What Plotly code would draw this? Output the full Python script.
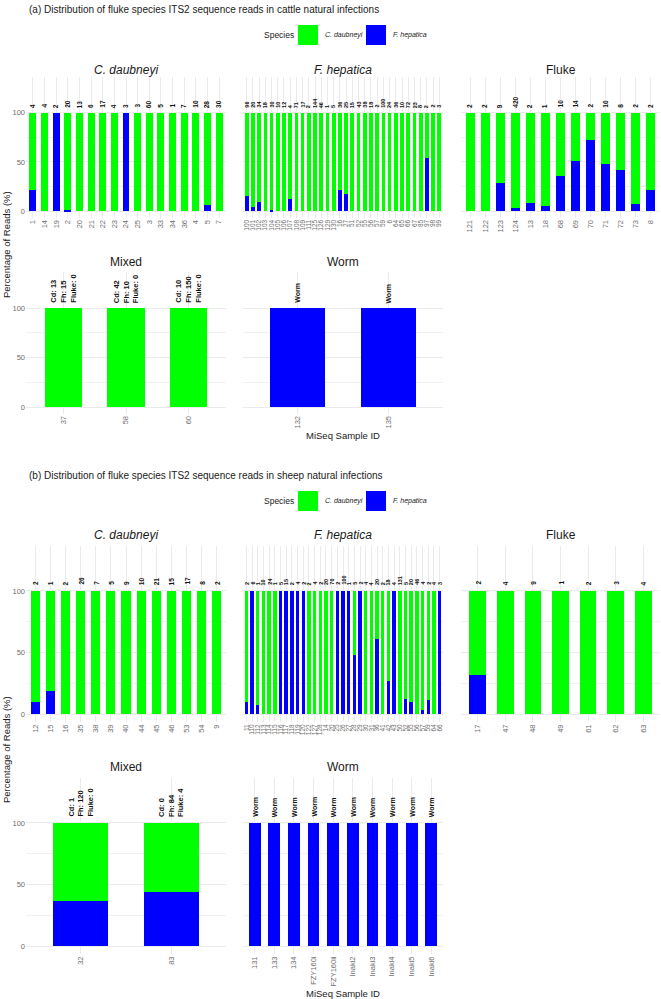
import plotly.graph_objects as go

# ---------------- data ----------------
# (a) cattle
cattle_cd_ids = ["1", "14", "19", "2", "20", "21", "22", "23", "24", "25", "3", "33", "34", "36", "4", "5", "7"]
cattle_cd_fh = [21, 0, 100, 1, 0, 0, 0, 0, 100, 0, 0, 0, 0, 0, 0, 6, 0]
cattle_cd_n = [4, 4, 2, 20, 13, 6, 17, 4, 3, 3, 60, 5, 1, 7, 10, 28, 30]

cattle_fh_ids = ["100", "101", "102", "103", "104", "105", "106", "107", "108", "109", "111", "125", "126",
                 "129", "130", "16", "27", "51", "52", "55", "56", "57", "59", "6", "64", "65", "66", "67",
                 "85", "97", "98", "99"]
cattle_fh_fh = [15, 4, 9, 0, 1, 0, 0, 12, 0, 0, 0, 0, 0, 0, 0, 22, 17, 0, 0, 0, 0, 0, 0, 0, 0, 0, 0, 0,
                0, 54, 0, 0]
cattle_fh_n = [96, 20, 34, 18, 30, 10, 12, 4, 71, 17, 2, 144, 46, 1, 5, 36, 25, 15, 43, 38, 18, 2, 100,
               24, 36, 10, 72, 23, 8, 2, 2, 3]

cattle_fl_ids = ["121", "122", "123", "124", "13", "18", "68", "69", "70", "71", "72", "73", "8"]
cattle_fl_fh = [0, 0, 29, 3, 8, 5, 36, 51, 72, 48, 42, 7, 21]
cattle_fl_n = [2, 2, 9, 420, 2, 1, 10, 14, 2, 10, 8, 2, 2]

cattle_mx_ids = ["37", "58", "60"]
cattle_mx_fh = [0, 0, 0]
cattle_mx_cd_n = [13, 42, 10]
cattle_mx_fh_n = [15, 10, 150]
cattle_mx_fluke_n = [0, 0, 0]

cattle_wm_ids = ["132", "135"]
cattle_wm_fh = [100, 100]

# (b) sheep
sheep_cd_ids = ["12", "15", "16", "35", "38", "39", "40", "44", "45", "46", "53", "54", "9"]
sheep_cd_fh = [10, 19, 0, 0, 0, 0, 0, 0, 0, 0, 0, 0, 0]
sheep_cd_n = [2, 1, 2, 26, 7, 5, 9, 10, 21, 15, 17, 8, 2]

sheep_fh_ids = ["11", "110", "112", "113", "114", "115", "116", "117", "118", "119", "120", "122", "127",
                "128", "14", "20", "25", "26", "27", "28", "29", "30", "31", "36", "41", "42", "43", "50",
                "52", "55", "56", "57", "59", "64", "66"]
sheep_fh_fh = [10, 100, 7, 0, 0, 0, 100, 100, 100, 100, 100, 0, 0, 0, 0, 0, 100, 100, 100, 48, 100, 0, 0,
               61, 0, 27, 100, 0, 12, 10, 0, 3, 11, 0, 100]
sheep_fh_n = [2, 6, 1, 10, 24, 1, 5, 15, 2, 4, 2, 2, 4, 2, 20, 70, 2, 100, 1, 5, 2, 4, 4, 20, 2, 18, 4,
              131, 5, 20, 46, 4, 2, 4, 3]

sheep_fl_ids = ["17", "47", "48", "49", "61", "62", "63"]
sheep_fl_fh = [32, 0, 0, 0, 0, 0, 0]
sheep_fl_n = [2, 4, 9, 1, 2, 3, 4]

sheep_mx_ids = ["32", "83"]
sheep_mx_fh = [36.5, 44]
sheep_mx_cd_n = [1, 0]
sheep_mx_fh_n = [120, 84]
sheep_mx_fluke_n = [0, 4]

sheep_wm_ids = ["131", "133", "134", "FZY160i", "FZY160ii", "Inaki2", "Inaki3", "Inaki4", "Inaki5", "Inaki6"]
sheep_wm_fh = [100] * 10

species_names = ["C. daubneyi", "F. hepatica"]
block_titles = ["(a) Distribution of fluke species ITS2 sequence reads in cattle natural infections",
                "(b) Distribution of fluke species ITS2 sequence reads in sheep natural infections"]

# ---------------- style / layout ----------------
W, H = 661, 999
GREEN, BLUE = "#00FF00", "#0000FF"
FONT = "Liberation Sans, Arial, Helvetica, sans-serif"
TICKC = "#6e6e6e"
TXT = "#1a1a1a"
GRID = "#EBEBEB"

XDOM = [(26, 226), (243, 443), (461, 660)]
ROWS = {"a1": (77, 217.5), "a2": (272, 413.5), "b1": (546, 722), "b2": (778, 954)}
TITLE_Y = {"a1": 70, "a2": 262, "b1": 535, "b2": 767}


def mixed_labels(cd, fh, fl):
    return ["Cd: %d<br>Fh: %d<br>Fluke: %d" % (a, b, c) for a, b, c in zip(cd, fh, fl)]


panels = [
    dict(title="<i>C. daubneyi</i>", ids=cattle_cd_ids, fh=cattle_cd_fh, labels=[str(v) for v in cattle_cd_n],
         col=0, row="a1", tick=7.5, lab=6.5),
    dict(title="<i>F. hepatica</i>", ids=cattle_fh_ids, fh=cattle_fh_fh, labels=[str(v) for v in cattle_fh_n],
         col=1, row="a1", tick=6.5, lab=5.5),
    dict(title="Fluke", ids=cattle_fl_ids, fh=cattle_fl_fh, labels=[str(v) for v in cattle_fl_n],
         col=2, row="a1", tick=7.5, lab=6.5),
    dict(title="Mixed", ids=cattle_mx_ids, fh=cattle_mx_fh,
         labels=mixed_labels(cattle_mx_cd_n, cattle_mx_fh_n, cattle_mx_fluke_n), col=0, row="a2", tick=7.5,
         lab=7.5),
    dict(title="Worm", ids=cattle_wm_ids, fh=cattle_wm_fh, labels=["Worm"] * len(cattle_wm_ids),
         col=1, row="a2", tick=7.5, lab=7),
    dict(title="<i>C. daubneyi</i>", ids=sheep_cd_ids, fh=sheep_cd_fh, labels=[str(v) for v in sheep_cd_n],
         col=0, row="b1", tick=7.5, lab=6.5),
    dict(title="<i>F. hepatica</i>", ids=sheep_fh_ids, fh=sheep_fh_fh, labels=[str(v) for v in sheep_fh_n],
         col=1, row="b1", tick=6.5, lab=5.5),
    dict(title="Fluke", ids=sheep_fl_ids, fh=sheep_fl_fh, labels=[str(v) for v in sheep_fl_n],
         col=2, row="b1", tick=7.5, lab=6.5),
    dict(title="Mixed", ids=sheep_mx_ids, fh=sheep_mx_fh,
         labels=mixed_labels(sheep_mx_cd_n, sheep_mx_fh_n, sheep_mx_fluke_n), col=0, row="b2", tick=7.5,
         lab=7.5),
    dict(title="Worm", ids=sheep_wm_ids, fh=sheep_wm_fh, labels=["Worm"] * len(sheep_wm_ids),
         col=1, row="b2", tick=7.5, lab=7),
]

fig = go.Figure()
annotations = []
shapes = []
layout_axes = {}

for k, p in enumerate(panels, start=1):
    s = "" if k == 1 else str(k)
    xa, ya = "x" + s, "y" + s
    ids = p["ids"]
    fh = p["fh"]
    cd = [100 - v for v in fh]
    fig.add_trace(go.Bar(x=ids, y=fh, marker=dict(color=BLUE, line=dict(width=0)), xaxis=xa, yaxis=ya,
                         name=species_names[1], showlegend=False))
    fig.add_trace(go.Bar(x=ids, y=cd, marker=dict(color=GREEN, line=dict(width=0)), xaxis=xa, yaxis=ya,
                         name=species_names[0], showlegend=False))
    x0, x1 = XDOM[p["col"]]
    yt, yb = ROWS[p["row"]]
    layout_axes["xaxis" + s] = dict(
        domain=[x0 / W, x1 / W], anchor=ya, type="category", categoryorder="array", categoryarray=ids,
        range=[-0.6, len(ids) - 0.4], tickmode="array", tickvals=ids, ticktext=ids, tickangle=-90,
        tickfont=dict(size=p["tick"], color=TICKC, family=FONT), showgrid=True, gridcolor=GRID, gridwidth=1,
        showline=False, zeroline=False, ticks="", automargin=False, fixedrange=True)
    layout_axes["yaxis" + s] = dict(
        domain=[1 - yb / H, 1 - yt / H], anchor=xa, range=[-6.5, 136.5], tickmode="array",
        tickvals=[0, 50, 100], showticklabels=(p["col"] == 0),
        tickfont=dict(size=7.5, color=TICKC, family=FONT), showgrid=True, gridcolor=GRID, gridwidth=1,
        minor=dict(tickmode="array", tickvals=[25, 75], showgrid=True, gridcolor="#F1F1F1", gridwidth=0.6),
        zeroline=False, showline=False, ticks="", automargin=False, fixedrange=True)
    # panel title
    annotations.append(dict(text=p["title"], x=(x0 + x1) / 2 / W, y=1 - TITLE_Y[p["row"]] / H,
                            xref="paper", yref="paper", showarrow=False, xanchor="center", yanchor="middle",
                            font=dict(size=12, color=TXT, family=FONT)))
    # count labels on top of bars (x given as category index)
    for i, lab in enumerate(p["labels"]):
        annotations.append(dict(text="<b>%s</b>" % lab, x=i, y=104, xref=xa, yref=ya, showarrow=False,
                                textangle=-90, xanchor="center", yanchor="bottom", align="left",
                                borderpad=0, font=dict(size=p["lab"], color="#111111", family=FONT)))

# block titles, legends, axis titles
for title, ty, ly, xt_y, yt_c in [(block_titles[0], 9, 35, 435, 245), (block_titles[1], 476, 501, 993, 750)]:
    annotations.append(dict(text=title, x=27 / W, y=1 - ty / H, xref="paper", yref="paper", showarrow=False,
                            xanchor="left", yanchor="middle", font=dict(size=10, color=TXT, family=FONT)))
    annotations.append(dict(text="Species", x=262 / W, y=1 - ly / H, xref="paper", yref="paper",
                            showarrow=False, xanchor="left", yanchor="middle",
                            font=dict(size=8.5, color=TXT, family=FONT)))
    for (kx0, kx1, tx, col, name) in [(298, 318, 323, GREEN, species_names[0]),
                                      (366, 386, 391, BLUE, species_names[1])]:
        shapes.append(dict(type="rect", xref="paper", yref="paper", x0=kx0 / W, x1=kx1 / W,
                           y0=1 - (ly + 10) / H, y1=1 - (ly - 10) / H, fillcolor=col, line=dict(width=0)))
        annotations.append(dict(text="<i>%s</i>" % name, x=tx / W, y=1 - ly / H, xref="paper", yref="paper",
                                showarrow=False, xanchor="left", yanchor="middle",
                                font=dict(size=7, color=TXT, family=FONT)))
    annotations.append(dict(text="MiSeq Sample ID", x=343 / W, y=1 - xt_y / H, xref="paper", yref="paper",
                            showarrow=False, xanchor="center", yanchor="middle",
                            font=dict(size=9.5, color=TXT, family=FONT)))
    annotations.append(dict(text="Percentage of Reads (%)", x=6 / W, y=1 - yt_c / H, xref="paper",
                            yref="paper", showarrow=False, textangle=-90, xanchor="center", yanchor="middle",
                            font=dict(size=9.5, color=TXT, family=FONT)))

fig.update_layout(
    width=W, height=H, margin=dict(l=0, r=0, t=0, b=0), autosize=False,
    paper_bgcolor="white", plot_bgcolor="white", barmode="stack", bargap=0.4,
    showlegend=False, font=dict(family=FONT), annotations=annotations, shapes=shapes, **layout_axes)

fig.write_html("out.html")
